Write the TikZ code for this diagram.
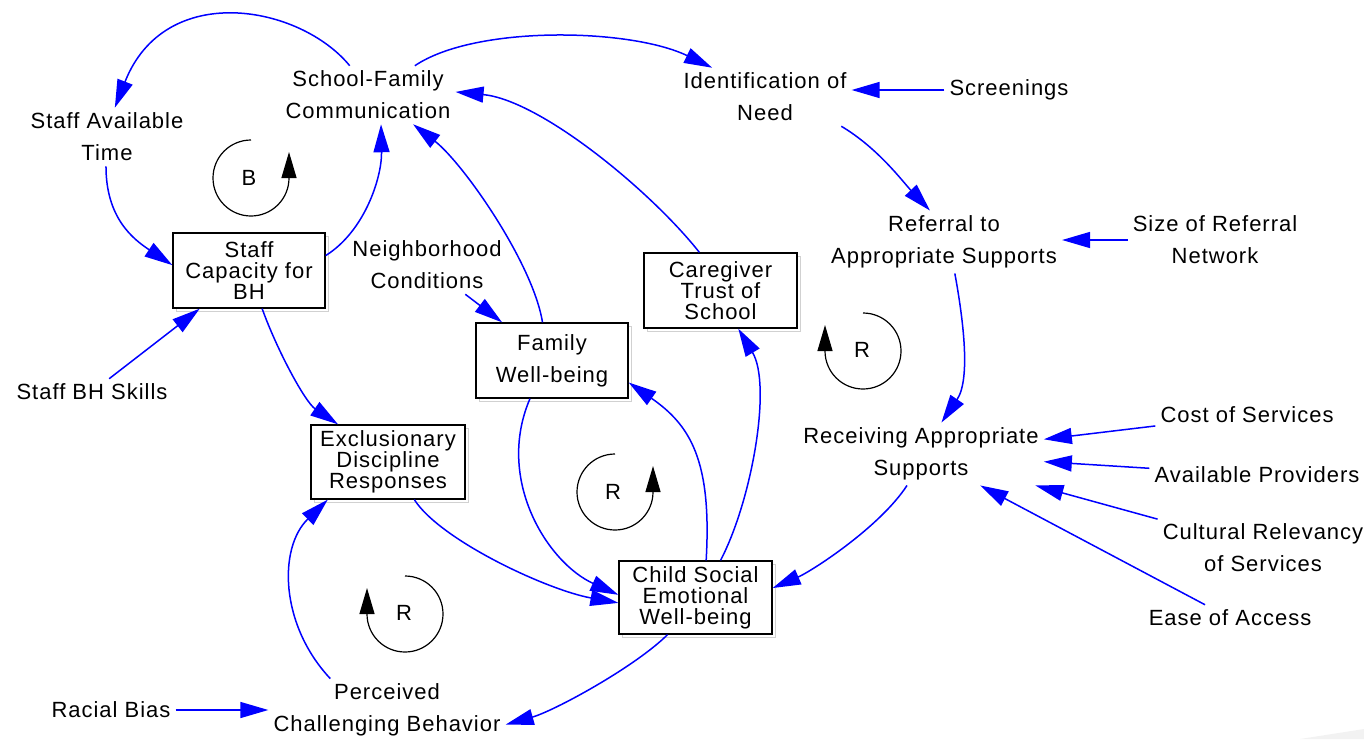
\documentclass[tikz,border=0pt]{standalone}
\usepackage{fontspec}
\setmainfont{Liberation Sans}[LetterSpace=4.5]
\usetikzlibrary{arrows.meta,shadows}
\newcommand\lblfont{\fontsize{22}{32}\selectfont}
\newcommand\vbxfont{\fontsize{22}{21}\selectfont}
\tikzset{
  lbl/.style={font=\lblfont, align=center, inner sep=5pt},
  stock/.style={draw=black, line width=1.3pt, fill=white, inner sep=0pt,
    minimum width=152pt, minimum height=75pt, align=center, font=\vbxfont,
    copy shadow={shadow xshift=3pt, shadow yshift=-3pt, draw=black!18, fill=white, line width=1pt}},
  flow/.style={draw=blue, line width=1.5pt, -{Triangle[length=28pt,width=16pt]}},
  loopln/.style={draw=black, line width=1.2pt, -{Triangle[length=26pt,width=15pt]}},
}
\begin{document}
\begin{tikzpicture}[x=1pt,y=-1pt]
\useasboundingbox (0,0) rectangle (1364,739);
\fill[black!5] (1300,739) -- (1364,729) -- (1364,739) -- cycle;

% free variables
\node[lbl] (scf) at (368,95) {School-Family\\Communication};
\node[lbl] (sat) at (107,137) {Staff Available\\Time};
\node[lbl] (nbc) at (427,265) {Neighborhood\\Conditions};
\node[lbl] (ion) at (765,97) {Identification of\\Need};
\node[lbl] (scr) at (1009,90) {Screenings};
\node[lbl] (ref) at (944,242) {Referral to\\Appropriate Supports};
\node[lbl] (srn) at (1215,240) {Size of Referral\\Network};
\node[lbl] (bhs) at (92,392) {Staff BH Skills};
\node[lbl] (rec) at (921,454) {Receiving Appropriate\\Supports};
\node[lbl] (cos) at (1247,415) {Cost of Services};
\node[lbl] (avp) at (1257,475) {Available Providers};
\node[lbl] (cul) at (1263,548) {Cultural Relevancy\\of Services};
\node[lbl] (eoa) at (1230,618) {Ease of Access};
\node[lbl] (rbs) at (111,710) {Racial Bias};
\node[lbl] (pcb) at (387,710) {Perceived\\Challenging Behavior};

% stocks
\node[stock] (scb) at (249,270.5) {Staff\\Capacity for\\BH};
\node[stock, minimum width=153pt] (cgt) at (720.5,290.5) {Caregiver\\Trust of\\School};
\node[stock, font=\lblfont] (fwb) at (552,360.5) {Family\\Well-being};
\node[stock, minimum width=154pt, minimum height=74pt] (edr) at (388,462) {Exclusionary\\Discipline\\Responses};
\node[stock, minimum width=153pt, minimum height=73pt] (csw) at (695.5,597.5) {Child Social\\Emotional\\Well-being};

% causal links
\draw[flow] (scf.122) .. controls (300,5) and (165,-20) .. (sat.75);
\draw[flow] (sat.-92) .. controls (106,218) and (133,239) .. (scb.176);
\draw[flow] (scb.11) .. controls (365,231) and (382,177) .. (scf.-66);
\draw[flow] (scf.32) .. controls (475,25) and (630,28) .. (ion.151);
\draw[flow] (cgt.119) .. controls (650,190) and (540,100) .. (scf.2);
\draw[flow] (fwb.104) .. controls (533,263) and (463,163) .. (scf.-33);
\draw[flow] (scr.west) -- (scr.west -| ion.east);
\draw[flow] (ion.-21) .. controls (878,148) and (903,182) .. (ref.114);
\draw[flow] (srn.west) -- (srn.west -| ref.east);
\draw[flow] (ref.-71) .. controls (963,318) and (971,379) .. (rec.57);
\draw[flow] (cos) -- (rec);
\draw[flow] (avp) -- (rec);
\draw[flow] (cul) -- (rec);
\draw[flow] (eoa) -- (rec);
\draw[flow] (rec.-114) .. controls (880,527) and (812,571) .. (csw.7);
\draw[flow] (nbc) -- (fwb);
\draw[flow] (bhs) -- (scb);
\draw[flow] (scb.-71) .. controls (277,350) and (305,402) .. (edr.143);
\draw[flow] (pcb.151) .. controls (280,625) and (278,548) .. (edr.212);
\draw[flow] (rbs) -- (pcb);
\draw[flow] (edr.-55) .. controls (440,540) and (547,590) .. (csw.184);
\draw[flow] (fwb.-120) .. controls (495,480) and (548,563) .. (csw.178);
\draw[flow] (csw.74) .. controls (712,460) and (690,425) .. (fwb.-16);
\draw[flow] (csw.56) .. controls (752,500) and (772,385) .. (cgt.-65);
\draw[flow] (csw.-127) .. controls (635,667) and (554,711) .. (pcb.-7);

% loop markers
\node[font=\lblfont, inner sep=0pt] (lpb) at (249,178) {B};
\draw[loopln] (251,140) arc[start angle=270, end angle=0, radius=38] -- ++(0,-26);
\node[font=\lblfont, inner sep=0pt] (lpm) at (613,492) {R};
\draw[loopln] (615,454) arc[start angle=270, end angle=0, radius=38] -- ++(0,-26);
\node[font=\lblfont, inner sep=0pt] (lpr) at (862,350) {R};
\draw[loopln] (863,313) arc[start angle=270, end angle=540, radius=38] -- ++(0,-26);
\node[font=\lblfont, inner sep=0pt] (lpl) at (404,613) {R};
\draw[loopln] (405,576) arc[start angle=270, end angle=540, radius=38] -- ++(0,-26);
\end{tikzpicture}
\end{document}
